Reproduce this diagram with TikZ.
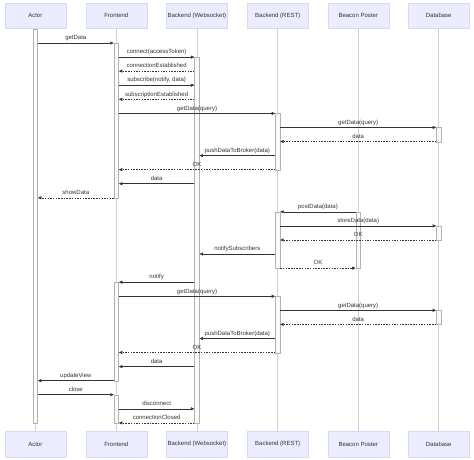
\documentclass[tikz,border=0pt]{standalone}
\usepackage{fontspec}
\setmainfont{Liberation Sans}
\usetikzlibrary{arrows.meta}
\definecolor{boxfill}{HTML}{ECECFF}
\definecolor{boxline}{HTML}{D9D9F2}
\definecolor{ink}{HTML}{333333}
\tikzset{
  lifebox/.style={draw=boxline, fill=boxfill, minimum width=61pt, minimum height=25pt,
    inner sep=0pt, font=\fontsize{6}{7}\selectfont, text=ink},
  lifeline/.style={draw=gray!35, line width=0.8pt},
  actbar/.style={draw=gray!60, fill=gray!4, line width=0.5pt, minimum width=4.5pt,
    inner sep=0pt, anchor=north},
  msg/.style={draw=ink, line width=0.6pt, -{Triangle[length=3.5pt,width=3pt]}},
  reply/.style={msg, dash pattern=on 1.5pt off 1.2pt},
  lbl/.style={above=1.8pt, inner sep=0pt, font=\fontsize{6}{7}\selectfont, text=ink,
    text height=4.3pt, text depth=1.2pt}
}
\begin{document}
\begin{tikzpicture}[x=1pt, y=-1pt]
    \useasboundingbox (0,0) rectangle (474,459);
    % Participants
    \node[lifebox] (actorTop) at (35.3,15.5) {Actor};
    \node[lifebox] (frontTop) at (116.3,15.5) {Frontend};
    \node[lifebox] (wsockTop) at (196.9,15.5) {Backend (Websocket)};
    \node[lifebox] (restTop) at (277.7,15.5) {Backend (REST)};
    \node[lifebox] (beaconTop) at (358.2,15.5) {Beacon Poster};
    \node[lifebox] (dbTop) at (438.7,15.5) {Database};

    \node[lifebox, minimum height=26pt] (actorBot) at (35.3,444) {Actor};
    \node[lifebox, minimum height=26pt] (frontBot) at (116.3,444) {Frontend};
    \node[lifebox, minimum height=26pt] (wsockBot) at (196.9,444) {Backend (Websocket)};
    \node[lifebox, minimum height=26pt] (restBot) at (277.7,444) {Backend (REST)};
    \node[lifebox, minimum height=26pt] (beaconBot) at (358.2,444) {Beacon Poster};
    \node[lifebox, minimum height=26pt] (dbBot) at (438.7,444) {Database};

    % Lifelines
    \draw[lifeline] (actorTop.south) -- (actorBot.north);
    \draw[lifeline] (frontTop.south) -- (frontBot.north);
    \draw[lifeline] (wsockTop.south) -- (wsockBot.north);
    \draw[lifeline] (restTop.south) -- (restBot.north);
    \draw[lifeline] (beaconTop.south) -- (beaconBot.north);
    \draw[lifeline] (dbTop.south) -- (dbBot.north);

    % Activations
    \node[actbar, minimum height=394pt] (actA) at (35.3,29) {};
    \node[actbar, minimum height=154.8pt] (feA) at (116.3,43) {};
    \node[actbar, minimum height=98.5pt] (feB) at (116.3,282.2) {};
    \node[actbar, minimum height=28.2pt] (feC) at (116.3,394.7) {};
    \node[actbar, minimum height=365.8pt] (wsA) at (196.9,57.1) {};
    \node[actbar, minimum height=56.3pt] (restA) at (277.7,113.4) {};
    \node[actbar, minimum height=56.3pt] (restB) at (277.7,211.8) {};
    \node[actbar, minimum height=56.2pt] (restC) at (277.7,296.3) {};
    \node[actbar, minimum height=56.3pt] (bcnA) at (358.2,211.8) {};
    \node[actbar, minimum height=14.1pt] (dbA) at (438.7,127.4) {};
    \node[actbar, minimum height=14.1pt] (dbB) at (438.7,225.9) {};
    \node[actbar, minimum height=14.1pt] (dbC) at (438.7,310.3) {};

    % Initial load
    \draw[msg] (actA.east |- 0,43) -- (feA.west |- 0,43) node[lbl, midway] {getData};
    \draw[msg] (feA.east |- 0,57.1) -- (wsA.west |- 0,57.1) node[lbl, midway] {connect(accessToken)};
    \draw[reply] (wsA.west |- 0,71.1) -- (feA.east |- 0,71.1) node[lbl, midway] {connectionEstablished};
    \draw[msg] (feA.east |- 0,85.2) -- (wsA.west |- 0,85.2) node[lbl, midway] {subscribe(notify, data)};
    \draw[reply] (wsA.west |- 0,99.3) -- (feA.east |- 0,99.3) node[lbl, midway] {subscriptionEstablished};
    \draw[msg] (feA.east |- 0,113.4) -- (restA.west |- 0,113.4) node[lbl, midway] {getData(query)};
    \draw[msg] (restA.east |- 0,127.4) -- (dbA.west |- 0,127.4) node[lbl, midway] {getData(query)};
    \draw[reply] (dbA.west |- 0,141.5) -- (restA.east |- 0,141.5) node[lbl, midway] {data};
    \draw[msg] (restA.west |- 0,155.6) -- (wsA.east |- 0,155.6) node[lbl, midway] {pushDataToBroker(data)};
    \draw[reply] (restA.west |- 0,169.6) -- (feA.east |- 0,169.6) node[lbl, midway] {OK};
    \draw[msg] (wsA.west |- 0,183.7) -- (feA.east |- 0,183.7) node[lbl, midway] {data};
    \draw[reply] (feA.west |- 0,197.8) -- (actA.east |- 0,197.8) node[lbl, midway] {showData};

    % Beacon post
    \draw[msg] (bcnA.west |- 0,211.8) -- (restB.east |- 0,211.8) node[lbl, midway] {postData(data)};
    \draw[msg] (restB.east |- 0,225.9) -- (dbB.west |- 0,225.9) node[lbl, midway] {storeData(data)};
    \draw[reply] (dbB.west |- 0,240) -- (restB.east |- 0,240) node[lbl, midway] {OK};
    \draw[msg] (restB.west |- 0,254) -- (wsA.east |- 0,254) node[lbl, midway] {notifySubscribers};
    \draw[reply] (restB.east |- 0,268.1) -- (bcnA.west |- 0,268.1) node[lbl, midway] {OK};

    % Update
    \draw[msg] (wsA.west |- 0,282.2) -- (feB.east |- 0,282.2) node[lbl, midway] {notify};
    \draw[msg] (feB.east |- 0,296.3) -- (restC.west |- 0,296.3) node[lbl, midway] {getData(query)};
    \draw[msg] (restC.east |- 0,310.3) -- (dbC.west |- 0,310.3) node[lbl, midway] {getData(query)};
    \draw[reply] (dbC.west |- 0,324.4) -- (restC.east |- 0,324.4) node[lbl, midway] {data};
    \draw[msg] (restC.west |- 0,338.5) -- (wsA.east |- 0,338.5) node[lbl, midway] {pushDataToBroker(data)};
    \draw[reply] (restC.west |- 0,352.5) -- (feB.east |- 0,352.5) node[lbl, midway] {OK};
    \draw[msg] (wsA.west |- 0,366.6) -- (feB.east |- 0,366.6) node[lbl, midway] {data};
    \draw[msg] (feB.west |- 0,380.7) -- (actA.east |- 0,380.7) node[lbl, midway] {updateView};

    % Close
    \draw[msg] (actA.east |- 0,394.7) -- (feC.west |- 0,394.7) node[lbl, midway] {close};
    \draw[msg] (feC.east |- 0,408.8) -- (wsA.west |- 0,408.8) node[lbl, midway] {disconnect};
    \draw[reply] (wsA.west |- 0,422.9) -- (feC.east |- 0,422.9) node[lbl, midway] {connectionClosed};
\end{tikzpicture}
\end{document}
